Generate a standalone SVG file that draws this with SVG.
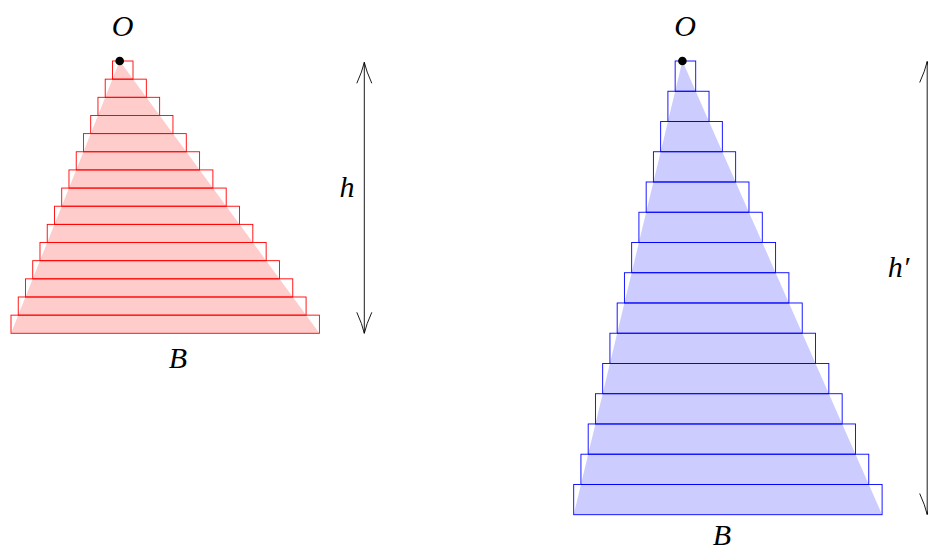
<svg xmlns="http://www.w3.org/2000/svg" width="928" height="551" viewBox="0 0 928 551">
<defs>
<style>
.lbl{font-family:"Liberation Serif","Times New Roman",serif;font-style:italic;font-size:30px;fill:#000;text-anchor:middle}
.rr{fill:none;stroke:#ff0000;stroke-width:0.9}
.br{fill:none;stroke:#0000ff;stroke-width:0.9}
.dim{stroke:#000;stroke-width:0.9;fill:none;marker-start:url(#tip);marker-end:url(#tip)}
</style>
<marker id="tip" markerUnits="userSpaceOnUse" orient="auto-start-reverse" refX="0" refY="0" markerWidth="24" markerHeight="18" viewBox="-22 -9 24 18" overflow="visible">
<path d="M-21,-7.5 Q-9,-2 0,0 Q-9,2 -21,7.5" fill="none" stroke="#000" stroke-width="0.9"/>
</marker>
</defs>
<rect width="928" height="551" fill="#fff"/>

<g id="red-pyramid">
<polygon points="119.7,61 319.4,333.3 11,333.3" fill="#ffcccc"/>
<g class="rr">
<rect x="112.45" y="61" width="20.56" height="18.153"/>
<rect x="105.21" y="79.15" width="41.12" height="18.153"/>
<rect x="97.96" y="97.31" width="61.68" height="18.153"/>
<rect x="90.71" y="115.46" width="82.24" height="18.153"/>
<rect x="83.47" y="133.61" width="102.8" height="18.153"/>
<rect x="76.22" y="151.77" width="123.36" height="18.153"/>
<rect x="68.97" y="169.92" width="143.92" height="18.153"/>
<rect x="61.72" y="188.07" width="164.48" height="18.153"/>
<rect x="54.48" y="206.22" width="185.04" height="18.153"/>
<rect x="47.23" y="224.38" width="205.6" height="18.153"/>
<rect x="39.98" y="242.53" width="226.16" height="18.153"/>
<rect x="32.74" y="260.68" width="246.72" height="18.153"/>
<rect x="25.49" y="278.84" width="267.28" height="18.153"/>
<rect x="18.24" y="296.99" width="287.84" height="18.153"/>
<rect x="11" y="315.14" width="308.4" height="18.153"/>
</g>
<circle cx="119.7" cy="61" r="4.3" fill="#000"/>
</g>

<g id="blue-pyramid">
<polygon points="682.4,61 882.1,514.7 573.7,514.7" fill="#ccccff"/>
<g class="br">
<rect x="675.15" y="61" width="20.56" height="30.247"/>
<rect x="667.91" y="91.25" width="41.12" height="30.247"/>
<rect x="660.66" y="121.49" width="61.68" height="30.247"/>
<rect x="653.41" y="151.74" width="82.24" height="30.247"/>
<rect x="646.17" y="181.99" width="102.8" height="30.247"/>
<rect x="638.92" y="212.24" width="123.36" height="30.247"/>
<rect x="631.67" y="242.48" width="143.92" height="30.247"/>
<rect x="624.42" y="272.73" width="164.48" height="30.247"/>
<rect x="617.18" y="302.98" width="185.04" height="30.247"/>
<rect x="609.93" y="333.22" width="205.6" height="30.247"/>
<rect x="602.68" y="363.47" width="226.16" height="30.247"/>
<rect x="595.44" y="393.72" width="246.72" height="30.247"/>
<rect x="588.19" y="423.96" width="267.28" height="30.247"/>
<rect x="580.94" y="454.21" width="287.84" height="30.247"/>
<rect x="573.7" y="484.46" width="308.4" height="30.247"/>
</g>
<circle cx="682.4" cy="61" r="4.3" fill="#000"/>
</g>

<g id="connectors">
<line class="dim" x1="364.3" y1="62.3" x2="364.3" y2="333.3"/>
<line class="dim" x1="927.2" y1="61.5" x2="927.2" y2="514.5"/>
</g>

<g id="labels">
<text class="lbl" x="122.5" y="36">O</text>
<text class="lbl" x="178" y="368">B</text>
<text class="lbl" x="347" y="196.7">h</text>
<text class="lbl" x="685" y="36">O</text>
<text class="lbl" x="722" y="544.5">B</text>
<text class="lbl" x="898.5" y="276.7">h′</text>
</g>
</svg>
